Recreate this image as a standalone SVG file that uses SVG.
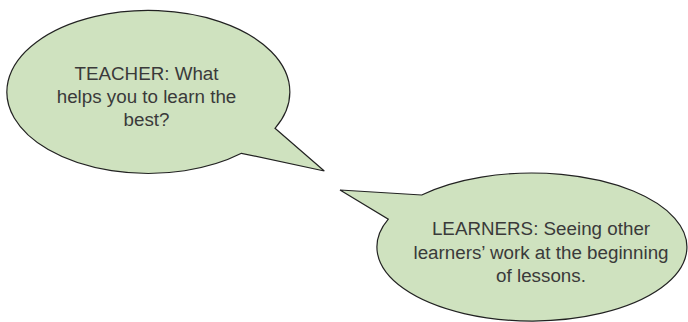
<svg xmlns="http://www.w3.org/2000/svg" width="688" height="322" viewBox="0 0 688 322">
  <style>
    .bubble { fill: #cfe2bf; stroke: #222222; stroke-width: 1.2; stroke-linejoin: miter; }
    .txt { font-family: "Liberation Sans", Arial, sans-serif; font-size: 18.8px; fill: #3a3a3a; text-anchor: middle; }
  </style>
  <rect width="688" height="322" fill="#ffffff"/>
  <g id="teacher">
    <path class="bubble" d="M275,128.3 L324.3,171 L241.5,153.3 A141.5,81.5 0 1 1 275,128.3 Z"/>
    <text class="txt" x="146.5" y="80">TEACHER: What</text>
    <text class="txt" x="146.5" y="103">helps you to learn the</text>
    <text class="txt" x="146.5" y="126">best?</text>
  </g>
  <g id="learners">
    <path class="bubble" d="M421.7,195 L340,190 L388.3,219.2 A155,74 0 1 0 421.7,195 Z"/>
    <text class="txt" x="541" y="235">LEARNERS: Seeing other</text>
    <text class="txt" x="541" y="258.5">learners’ work at the beginning</text>
    <text class="txt" x="541" y="282">of lessons.</text>
  </g>
  <g id="connectors"></g>
</svg>
